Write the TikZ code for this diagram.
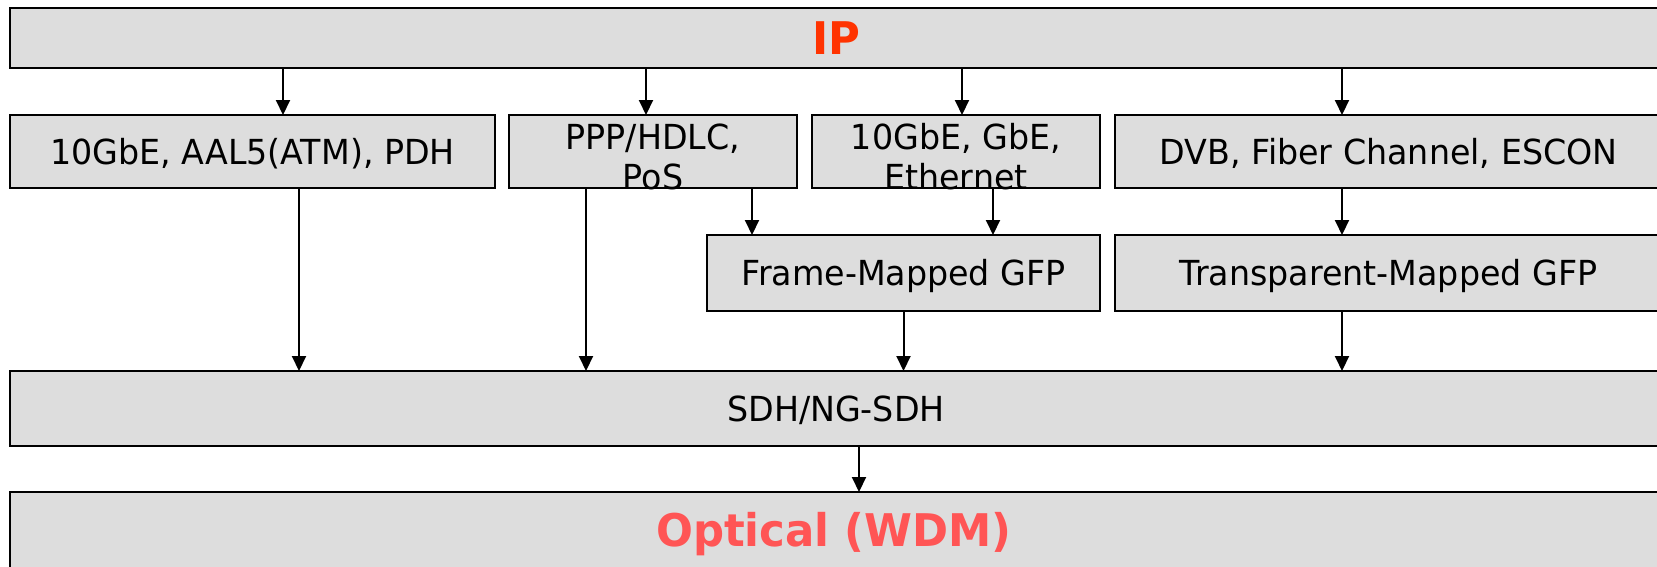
\documentclass[tikz,border=0pt]{standalone}
\usepackage{fontspec}
\setmainfont[FakeStretch=0.965]{DejaVu Sans}
\usetikzlibrary{arrows.meta}
\definecolor{boxfill}{HTML}{DDDDDD}
\definecolor{ipred}{HTML}{FF3300}
\definecolor{optred}{HTML}{FF5555}
\newcommand{\plainfont}{\fontsize{34.5}{40}\selectfont}
\newcommand{\headfont}{\fontsize{45}{50}\selectfont\bfseries}
\tikzset{
  layerbox/.style={draw=black, line width=2.5pt, fill=boxfill, rectangle,
    inner sep=0pt, outer sep=0pt, font=\plainfont,
    text height=25.2pt, text depth=0pt},
  headbox/.style={layerbox, font=\headfont, text height=32.8pt},
  twoline/.style={inner sep=0pt, font=\plainfont, align=center},
  flow/.style={line width=2pt, -{Triangle[length=15pt,width=14pt]}}
}
\begin{document}
\begin{tikzpicture}[x=1pt,y=-1pt]
\useasboundingbox (0,0) rectangle (1657,566);
\clip (0,0) rectangle (1657,566);

% top layer
\node[headbox, text=ipred, minimum width=1652pt, minimum height=60pt]
  (ip) at (836,38) {IP};

% client signals
\node[layerbox, minimum width=485pt, minimum height=73pt] (a) at (252.5,151.5)
  {10GbE, AAL5(ATM), PDH};
\node[layerbox, minimum width=288pt, minimum height=73pt] (b) at (653,151.5) {};
\node[twoline] (btext) at (653,156.5) {PPP/HDLC,\\PoS};
\node[layerbox, minimum width=288pt, minimum height=73pt] (c) at (956,151.5) {};
\node[twoline] (ctext) at (956,156.5) {10GbE, GbE,\\Ethernet};
\node[layerbox, minimum width=547pt, minimum height=73pt] (d) at (1388.5,151.5)
  {DVB, Fiber Channel, ESCON};

% GFP adaptation
\node[layerbox, minimum width=393pt, minimum height=76pt] (fm) at (903.5,273)
  {Frame-Mapped GFP};
\node[layerbox, minimum width=547pt, minimum height=76pt] (tm) at (1388.5,273)
  {Transparent-Mapped GFP};

% transport layers
\node[layerbox, minimum width=1652pt, minimum height=75pt] (sdh) at (836,408.5)
  {SDH/NG-SDH};
\node[layerbox, minimum width=1652pt, minimum height=100pt] (opt) at (836,542) {};
\node[inner sep=0pt, font=\headfont, text=optred, text height=32.8pt, text depth=0pt]
  (opttext) at (834,530.5) {Optical (WDM)};

% arrow columns
\coordinate (xa1) at (283,0);
\coordinate (xa2) at (299,0);
\coordinate (xb1) at (646,0);
\coordinate (xb2) at (586,0);
\coordinate (xb3) at (752,0);
\coordinate (xc1) at (962,0);
\coordinate (xc2) at (993,0);
\coordinate (xd) at (1342,0);
\coordinate (xs) at (859,0);

\draw[flow] (ip.south -| xa1) -- (a.north -| xa1);
\draw[flow] (ip.south -| xb1) -- (b.north -| xb1);
\draw[flow] (ip.south -| xc1) -- (c.north -| xc1);
\draw[flow] (ip.south -| xd) -- (d.north -| xd);

\draw[flow] (a.south -| xa2) -- (sdh.north -| xa2);
\draw[flow] (b.south -| xb2) -- (sdh.north -| xb2);
\draw[flow] (b.south -| xb3) -- (fm.north -| xb3);
\draw[flow] (c.south -| xc2) -- (fm.north -| xc2);
\draw[flow] (d.south -| xd) -- (tm.north -| xd);

\draw[flow] (fm.south) -- (sdh.north -| fm.south);
\draw[flow] (tm.south -| xd) -- (sdh.north -| xd);
\draw[flow] (sdh.south -| xs) -- (opt.north -| xs);
\end{tikzpicture}
\end{document}
